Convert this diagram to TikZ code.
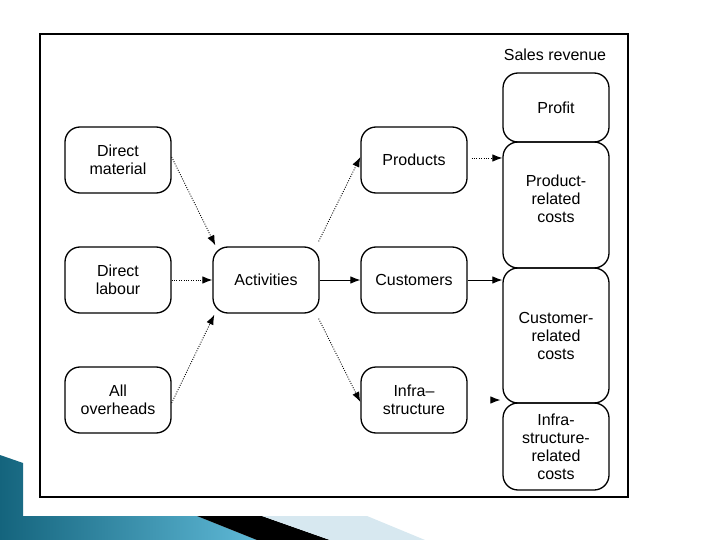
\documentclass[tikz,border=0pt]{standalone}
\usepackage{fontspec}
\setmainfont{Liberation Sans}
\usetikzlibrary{arrows.meta}
\definecolor{deckdark}{RGB}{20,100,125}
\definecolor{decklight}{RGB}{95,185,215}
\definecolor{deckpale}{RGB}{215,232,240}
\begin{document}
\begin{tikzpicture}[x=1pt,y=-1pt,
  txt/.style={align=center, inner sep=0pt, font=\fontsize{16}{18}\selectfont},
  box/.style={txt, draw, line width=1.3pt, rounded corners=15pt, minimum width=106pt},
  conn/.style={line width=0.9pt, -{Latex[length=10pt,width=7.5pt]}},
  dotconn/.style={conn, dash pattern=on 0.9pt off 1.5pt}
]
\useasboundingbox (0,0) rectangle (720,540);
% slide decoration
\fill[white] (0,0) rectangle (720,540);
\shade[left color=deckdark, right color=decklight]
  (0,455) -- (23,463) -- (23,516) -- (197,516) -- (257,540) -- (0,540) -- cycle;
\fill[black] (197,516) -- (262,516) -- (330,540) -- (257,540) -- cycle;
\fill[deckpale] (262,516) -- (367,516) -- (425,540) -- (330,540) -- cycle;
% frame
\draw[line width=1.3pt] (40,34) rectangle (628,497);

% left column
\node[box, minimum height=66pt] (dm) at (118,160) {Direct\\material};
\node[box, minimum height=66pt] (dl) at (118,280) {Direct\\labour};
\node[box, minimum height=66pt] (oh) at (118,400) {All\\overheads};
% middle
\node[box, minimum height=66pt] (act) at (266,280) {Activities};
\node[box, minimum height=66pt] (prod) at (414,160) {Products};
\node[box, minimum height=66pt] (cust) at (414,280) {Customers};
\node[box, minimum height=66pt] (infra) at (414,400) {Infra--\\structure};
% right column
\node[txt] (sales) at (555,55) {Sales revenue};
\node[box, minimum height=69pt] (profit) at (556,107.5) {Profit};
\node[box, minimum height=126pt] (prc) at (556,205) {};
\node[txt] (prct) at (556,199) {Product-\\related\\costs};
\node[box, minimum height=135pt] (crc) at (556,335.5) {Customer-\\related\\costs};
\node[box, minimum height=87pt] (irc) at (556,446.5) {Infra-\\structure-\\related\\costs};

% connectors
\draw[dotconn] ([yshift=3pt]dm.east) -- ([xshift=3pt,yshift=1pt]act.north west);
\draw[dotconn] (dl.east) -- (act.west);
\draw[dotconn] ([yshift=-3pt]oh.east) -- ([xshift=2pt,yshift=-1pt]act.south west);
\draw[dotconn] ([xshift=-1pt,yshift=5pt]act.north east) -- ([yshift=3pt]prod.west);
\draw[conn] (act.east) -- (cust.west);
\draw[dotconn] ([xshift=-1pt,yshift=-5pt]act.south east) -- ([yshift=-2pt]infra.west);
\draw[dotconn] ([xshift=4pt,yshift=2pt]prod.east) -- ([yshift=2pt]prod.east -| prc.west);
\draw[conn] (cust.east) -- (cust.east -| crc.west);
\draw[conn, shorten <=25pt, shorten >=2pt] (infra.east) -- (infra.east -| irc.west);
\end{tikzpicture}
\end{document}
